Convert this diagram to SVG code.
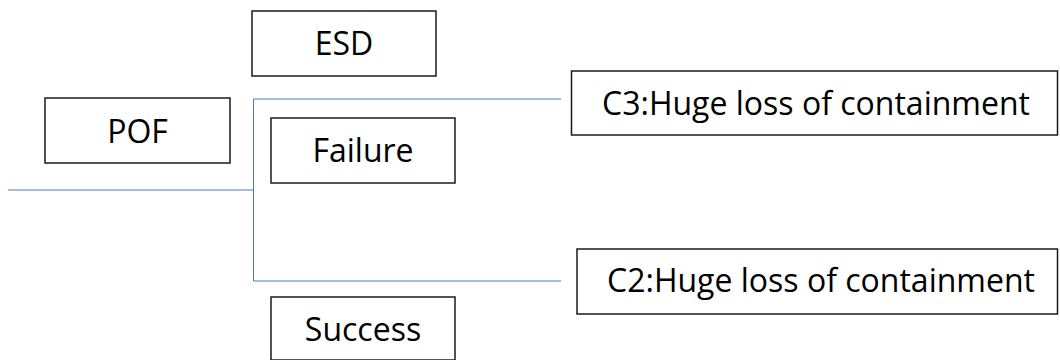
<svg xmlns="http://www.w3.org/2000/svg" width="1060" height="360" viewBox="0 0 1060 360">
  <style>
    .box { fill: #ffffff; stroke: #1a1a1a; stroke-width: 1.5; }
    .label { font-family: "Open Sans", "Noto Sans", sans-serif; font-size: 32px; fill: #000000; text-anchor: middle; }
    .link { fill: none; stroke: #4f78c6; stroke-width: 1; }
  </style>
  <rect width="1060" height="360" fill="#ffffff"/>

  <!-- event tree branches -->
  <g id="connectors">
    <path class="link" d="M8 190 H253.5"/>
    <path class="link" d="M253.5 99 V281"/>
    <path class="link" d="M253.5 99 H561"/>
    <path class="link" d="M253.5 281 H561"/>
  </g>

  <g id="esd">
    <rect class="box" x="252" y="11" width="184" height="65"/>
    <text class="label" x="344" y="55">ESD</text>
  </g>

  <g id="pof">
    <rect class="box" x="45" y="98" width="185" height="65"/>
    <text class="label" x="137.5" y="142.5">POF</text>
  </g>

  <g id="failure">
    <rect class="box" x="271" y="118" width="184" height="65"/>
    <text class="label" x="363" y="162">Failure</text>
  </g>

  <g id="success">
    <rect class="box" x="271" y="297" width="184" height="63"/>
    <text class="label" x="363" y="341">Success</text>
  </g>

  <g id="c3">
    <rect class="box" x="571.5" y="71" width="486" height="64"/>
    <text class="label" x="816" y="115">C3:Huge loss of containment</text>
  </g>

  <g id="c2">
    <rect class="box" x="577" y="249" width="480.5" height="65"/>
    <text class="label" x="821" y="292">C2:Huge loss of containment</text>
  </g>
</svg>
